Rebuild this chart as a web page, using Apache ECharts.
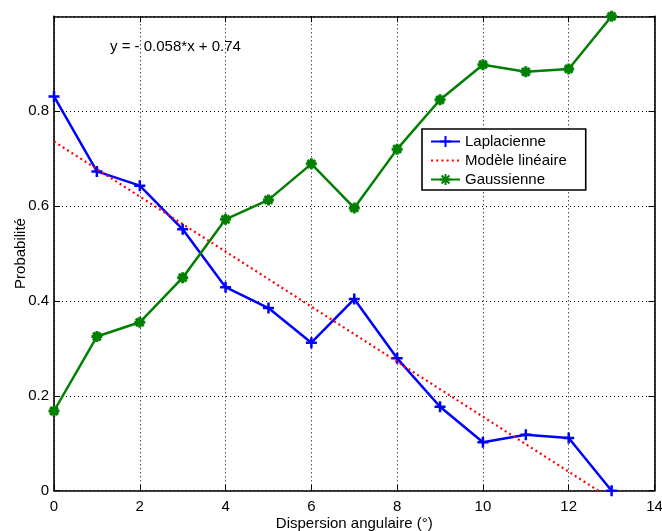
<!DOCTYPE html>
<html>
<head>
<meta charset="utf-8">
<script src="https://cdn.jsdelivr.net/npm/echarts@6/dist/echarts.min.js"></script>
<style>
html,body{margin:0;padding:0;background:#fff;}
#chart{width:662px;height:531px;}
</style>
</head>
<body>
<div id="chart"></div>
<script>
// ---- data ----
const xValues = [0,1,2,3,4,5,6,7,8,9,10,11,12,13];
const laplacienne = [0.831,0.673,0.643,0.551,0.429,0.385,0.312,0.404,0.279,0.177,0.102,0.118,0.111,0.0];
const gaussienne = [0.168,0.325,0.355,0.449,0.572,0.613,0.689,0.596,0.720,0.824,0.898,0.883,0.889,1.0];
const modelX = [0, 14];
const modelY = [0.736, -0.076];
const xTicks = [0,2,4,6,8,10,12,14];
const yTicks = [0,0.2,0.4,0.6,0.8,1];
const seriesNames = ['Laplacienne','Modèle linéaire','Gaussienne'];
const equationText = 'y = - 0.058*x + 0.74';
const xTitle = 'Dispersion angulaire (°)';
const yTitle = 'Probabilité';

const FONT = 'Liberation Sans, Arial, Helvetica, sans-serif';
const plusPath = 'path://M0,5L10,5M5,0L5,10';
const starPath = 'path://M5,0L5,10M0,5L10,5M1.5,1.5L8.5,8.5M8.5,1.5L1.5,8.5';
const blankPath = 'path://M0,0L10,0L10,10L0,10Z';

const chart = echarts.init(document.getElementById('chart'), null, {renderer:'canvas'});
const pair = (xs, ys) => xs.map((x,i)=>[x, ys[i]]);

const gridLine = {show:true, lineStyle:{color:'#000', width:1, type:[1,3]}};
const axisLine = {show:true, onZero:false, lineStyle:{color:'#000', width:1.6}};
const tick = {show:true, inside:true, length:6, lineStyle:{color:'#000', width:1}};

const option = {
  animation:false,
  backgroundColor:'#fff',
  textStyle:{fontFamily:FONT},
  grid:{left:54, right:7.5, top:16.3, bottom:40.3, containLabel:false, outerBoundsMode:'none'},
  xAxis:[{
    type:'value', min:0, max:14, interval:2, position:'bottom',
    axisLine:axisLine, axisTick:tick, splitLine:gridLine,
    axisLabel:{color:'#000', fontSize:15, fontFamily:FONT, margin:9,
      formatter:(v)=> xTicks.indexOf(v) >= 0 ? String(v) : ''},
    name:xTitle, nameLocation:'middle', nameGap:26, nameMoveOverlap:false,
    nameTextStyle:{color:'#000', fontSize:15, fontFamily:FONT}
  },{
    type:'value', min:0, max:14, interval:2, position:'top',
    axisLine:axisLine, axisTick:tick, splitLine:{show:false}, axisLabel:{show:false}
  }],
  yAxis:[{
    type:'value', min:0, max:1, interval:0.2, position:'left',
    axisLine:axisLine, axisTick:tick, splitLine:gridLine,
    axisLabel:{color:'#000', fontSize:15, fontFamily:FONT, margin:5, showMaxLabel:false,
      formatter:(v)=>{ const t = yTicks.find(k=>Math.abs(k-v)<1e-9); return t===undefined||t===1 ? '' : String(t); }},
    name:yTitle, nameLocation:'middle', nameGap:25.5, nameRotate:90, nameMoveOverlap:false,
    nameTextStyle:{color:'#000', fontSize:15, fontFamily:FONT}
  },{
    type:'value', min:0, max:1, interval:0.2, position:'right',
    axisLine:axisLine, axisTick:tick, splitLine:{show:false}, axisLabel:{show:false}
  }],
  legend:{
    orient:'vertical', left:422, top:129,
    backgroundColor:'#fff', borderColor:'#000', borderWidth:1.6,
    padding:[5,19,3,8], itemWidth:29, itemHeight:14, itemGap:4,
    textStyle:{color:'#000', fontSize:15, fontFamily:FONT},
    data:seriesNames
  },
  graphic:[{
    type:'text', left:110, top:39,
    style:{text:equationText, fill:'#000', font:'15px '+FONT}
  }],
  series:[{
    name:seriesNames[0], type:'line', data:pair(xValues, laplacienne),
    symbol:plusPath, symbolSize:11, showAllSymbol:true,
    lineStyle:{color:'#0000ff', width:2.5},
    itemStyle:{color:'#0000ff', borderColor:'#0000ff', borderWidth:2.5},
    emphasis:{disabled:true}, z:3
  },{
    name:seriesNames[1], type:'line', data:pair(modelX, modelY),
    symbol:blankPath, symbolSize:1, showSymbol:false, clip:true,
    lineStyle:{color:'#ff0000', width:2.2, type:[2,3.2]},
    itemStyle:{color:'rgba(255,0,0,0)', borderColor:'rgba(255,0,0,0)', borderWidth:0},
    emphasis:{disabled:true}, z:4
  },{
    name:seriesNames[2], type:'line', data:pair(xValues, gaussienne),
    symbol:starPath, symbolSize:11, showAllSymbol:true,
    lineStyle:{color:'#008000', width:2.5},
    itemStyle:{color:'#008000', borderColor:'#008000', borderWidth:3},
    emphasis:{disabled:true}, z:5
  }]
};
chart.setOption(option);
</script>
</body>
</html>
